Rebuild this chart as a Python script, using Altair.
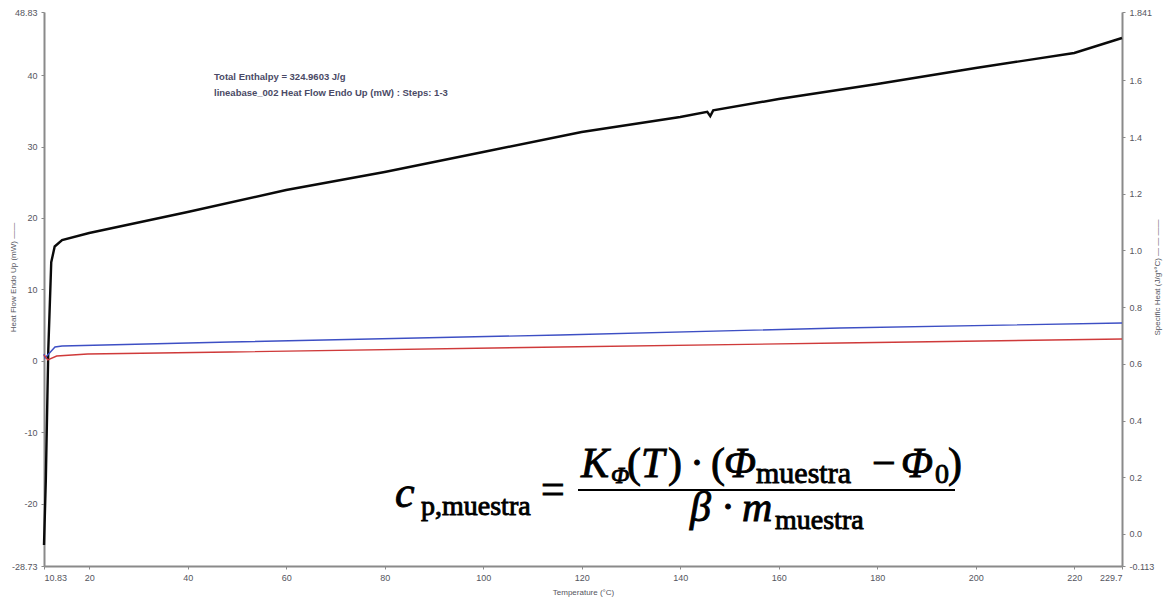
import altair as alt
import pandas as pd

# ---------------- data ----------------
temp_black = [10.83, 11.2, 11.7, 12.3, 13.0, 14.5, 20, 40, 60, 80, 100, 120, 140,
              145.5, 146.1, 146.7, 160, 180, 200, 220, 229.7]
hf_black = [-25.8, -16.7, 1.5, 13.8, 16.0, 16.9, 17.89, 20.83, 23.91, 26.43, 29.23,
            32.03, 34.13, 34.85, 34.25, 35.05, 36.65, 38.75, 40.99, 43.09, 45.19]

temp_blue = [10.83, 11.03, 13.06, 14.5, 48.6, 115.6, 172.4, 229.7]
hf_blue = [0.95, 0.39, 1.93, 2.07, 2.63, 3.61, 4.59, 5.29]

temp_red = [10.83, 11.6, 13.4, 19.7, 48.6, 115.6, 172.4, 229.7]
hf_red = [0.81, 0.11, 0.67, 0.95, 1.23, 1.93, 2.49, 3.05]

x_ticks = [10.83, 20, 40, 60, 80, 100, 120, 140, 160, 180, 200, 220, 229.7]
left_ticks = [-28.73, -20, -10, 0, 10, 20, 30, 40, 48.83]
right_ticks = [-0.113, 0.0, 0.2, 0.4, 0.6, 0.8, 1.0, 1.2, 1.4, 1.6, 1.841]
x_domain = [10.83, 229.7]
left_domain = [-28.73, 48.83]
right_domain = [-0.113, 1.841]

note_lines = ["Total Enthalpy = 324.9603 J/g",
              "lineabase_002 Heat Flow Endo Up (mW) : Steps: 1-3"]

# ---------------- style ----------------
AX = "#8a8a8a"
LAB = "#555560"
SANS = "Liberation Sans"
SERIF = "Liberation Serif"

def line_layer(t, v, color, width):
    df = pd.DataFrame({"T": t, "v": v})
    return alt.Chart(df).mark_line(color=color, strokeWidth=width, interpolate="linear").encode(
        x=alt.X("T:Q", scale=alt.Scale(domain=x_domain, nice=False, zero=False),
                axis=alt.Axis(values=x_ticks, title="Temperature (°C)", grid=False,
                              labelExpr="'' + datum.value", domainColor=AX, domainWidth=2,
                              tickColor=AX, tickSize=3, labelFontSize=9, labelColor=LAB,
                              labelFont=SANS, labelPadding=4, titleFont=SANS, titleFontSize=8,
                              titleFontWeight="normal", titleColor=LAB, titleY=26,
                              titleBaseline="middle")),
        y=alt.Y("v:Q", scale=alt.Scale(domain=left_domain, nice=False, zero=False),
                axis=alt.Axis(values=left_ticks, title="Heat Flow Endo Up (mW)   ——",
                              grid=False, labelExpr="'' + datum.value", domainColor=AX,
                              domainWidth=2, tickColor=AX, tickSize=3, labelFontSize=9,
                              labelColor=LAB, labelFont=SANS, labelPadding=4,
                              titleFont=SANS, titleFontSize=8, titleFontWeight="normal",
                              titleColor=LAB, titleAngle=-90, titleX=-31, titleY=265,
                              titleBaseline="middle", titleAlign="center")),
        order=alt.Order("T:Q"),
    )

black = line_layer(temp_black, hf_black, "#0a0a0a", 2.4)
blue = line_layer(temp_blue, hf_blue, "#3d4fc4", 1.4)
red = line_layer(temp_red, hf_red, "#cf3a3a", 1.4)

one = pd.DataFrame({"a": [0]})

def txt(s, x, y, size, font=SANS, style="normal", weight="normal", color="#000000",
        baseline="alphabetic", stroke_w=0.0):
    kw = dict(text=s, font=font, fontSize=size, fontStyle=style, fontWeight=weight,
              color=color, align="left", baseline=baseline)
    if stroke_w > 0:
        kw.update(stroke=color, strokeWidth=stroke_w)
    return alt.Chart(one).mark_text(**kw).encode(x=alt.value(x), y=alt.value(y))

layers = [black, blue, red]
# annotation block
layers.append(txt(note_lines[0], 170, 65, 9.5, weight="bold", color="#4a4a66", baseline="middle"))
layers.append(txt(note_lines[1], 170, 81, 9.5, weight="bold", color="#4a4a66", baseline="middle"))

# formula: (text, x, baseline y, size, italic)
formula = [
    ("c", 351, 495, 44, True),
    ("p,muestra", 377, 503, 28, False),
    ("=", 497, 491, 42, False),
    ("K", 537, 465, 42, True),
    ("Φ", 567, 471, 24, True),
    ("(", 583, 465, 42, False),
    ("T", 597, 465, 42, True),
    (")", 624, 465, 42, False),
    ("·", 646, 465, 42, False),
    ("(", 667, 465, 42, False),
    ("Φ", 680, 465, 42, True),
    ("muestra", 712, 471, 30, False),
    ("−", 828, 465, 42, False),
    ("Φ", 857, 465, 42, True),
    ("0", 891, 471, 28, False),
    (")", 904, 465, 42, False),
    ("β", 646, 509, 42, True),
    ("·", 677, 509, 42, False),
    ("m", 698, 509, 42, True),
    ("muestra", 731, 517, 28, False),
]
for s, x, y, size, it in formula:
    layers.append(txt(s, x, y, size, font=SERIF, style="italic" if it else "normal",
                      stroke_w=0.9))

layers.append(alt.Chart(one).mark_rule(color="#000000", strokeWidth=2).encode(
    x=alt.value(534), x2=alt.value(911), y=alt.value(478)))

left_part = alt.layer(*layers)

right_df = pd.DataFrame({"T": x_domain, "sh": right_domain})
right_part = alt.Chart(right_df).mark_point(opacity=0).encode(
    x=alt.X("T:Q", scale=alt.Scale(domain=x_domain, nice=False, zero=False)),
    y=alt.Y("sh:Q", scale=alt.Scale(domain=right_domain, nice=False, zero=False),
            axis=alt.Axis(orient="right", values=right_ticks,
                          title="Specific Heat (J/g*°C)   — —  ——", grid=False,
                          labelExpr="abs(datum.value - 1.841) < 1e-6 ? '1.841' : abs(datum.value + 0.113) < 1e-6 ? '-0.113' : format(datum.value, '.1f')",
                          domainColor=AX, domainWidth=2, tickColor=AX, tickSize=3,
                          labelFontSize=9, labelColor=LAB, labelFont=SANS, labelPadding=4,
                          titleFont=SANS, titleFontSize=8, titleFontWeight="normal",
                          titleColor=LAB, titleAngle=-90, titleX=35, titleY=265,
                          titleBaseline="middle", titleAlign="center")),
)

chart = alt.layer(left_part, right_part).resolve_scale(y="independent").properties(
    width=1078, height=554,
    autosize=alt.AutoSizeParams(type="none"),
    padding={"left": 44, "top": 12, "right": 42, "bottom": 32},
    background="#ffffff",
).configure_view(stroke=None)

chart.save("out.html", embed_options={"renderer": "svg", "actions": False})
